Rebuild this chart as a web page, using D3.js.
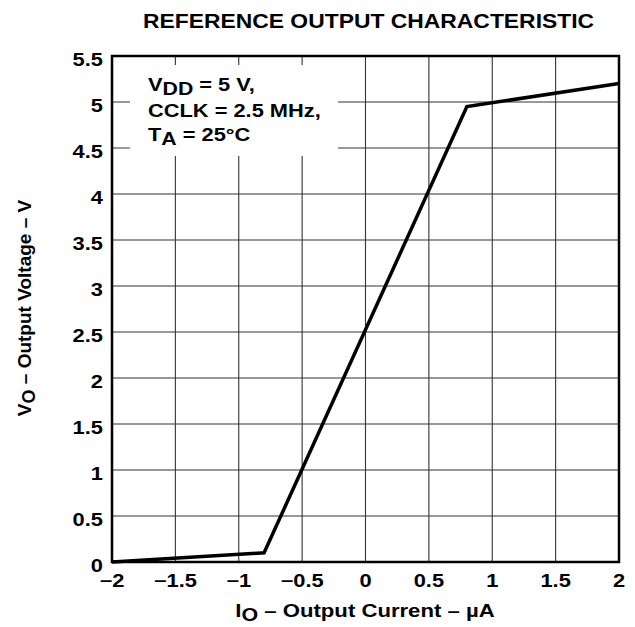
<!DOCTYPE html>
<html>
<head>
<meta charset="utf-8">
<script src="https://cdn.jsdelivr.net/npm/d3@7"></script>
<style>
  body { margin: 0; background: #fff; }
  svg { display: block; font-family: "Liberation Sans", Arial, sans-serif; font-weight: bold; }
</style>
</head>
<body>
<svg id="chart" width="635" height="627"></svg>
<script>
const currentUA = [-2, -0.8, 0.8, 2];
const outputV   = [0, 0.1, 4.95, 5.2];
const xTicks = [-2, -1.5, -1, -0.5, 0, 0.5, 1, 1.5, 2];
const yTicks = [0, 0.5, 1, 1.5, 2, 2.5, 3, 3.5, 4, 4.5, 5, 5.5];
const xTickLabels = ["\u22122", "\u22121.5", "\u22121", "\u22120.5", "0", "0.5", "1", "1.5", "2"];
const yTickLabels = ["0", "0.5", "1", "1.5", "2", "2.5", "3", "3.5", "4", "4.5", "5", "5.5"];

const svg = d3.select("#chart");
const L = 112, R = 619, T = 56, B = 562;
const x = d3.scaleLinear().domain([-2, 2]).range([L, R]);
const y = d3.scaleLinear().domain([0, 5.5]).range([B, T]);

// grid
const grid = svg.append("g").attr("stroke", "#333").attr("stroke-width", 1.1);
xTicks.slice(1, -1).forEach(v => {
  grid.append("line").attr("x1", x(v)).attr("x2", x(v)).attr("y1", T).attr("y2", B);
});
yTicks.slice(1, -1).forEach(v => {
  grid.append("line").attr("x1", L).attr("x2", R).attr("y1", y(v)).attr("y2", y(v));
});

// annotation box (white background)
svg.append("rect").attr("x", 130).attr("y", 65).attr("width", 208).attr("height", 91).attr("fill", "#fff");

// frame
svg.append("rect").attr("x", L).attr("y", T).attr("width", R - L).attr("height", B - T)
  .attr("fill", "none").attr("stroke", "#000").attr("stroke-width", 2.5);

// curve
const line = d3.line().x((d, i) => x(currentUA[i])).y(d => y(d));
svg.append("path").datum(outputV).attr("d", line)
  .attr("fill", "none").attr("stroke", "#000").attr("stroke-width", 3.5).attr("stroke-linejoin", "miter");

// helper: horizontally stretched text
function stext(px, py, sx, size, anchor, rot) {
  const g = svg.append("g").attr("transform",
    `translate(${px},${py})` + (rot ? ` rotate(${rot})` : "") + ` scale(${sx},1)`);
  return g.append("text").attr("text-anchor", anchor).attr("font-size", size);
}

// tick labels
xTicks.forEach((d, i) => {
  stext(x(d), 587, 1.25, 17.5, "middle").text(xTickLabels[i]);
});
yTicks.forEach((d, i) => {
  stext(103, y(d) + 10, 1.25, 17.5, "end").text(yTickLabels[i]);
});

// title
stext(368.5, 28, 1.09, 21, "middle").text("REFERENCE OUTPUT CHARACTERISTIC");

// x axis title
const xt = stext(365, 617, 1.19, 18.6, "middle");
xt.append("tspan").text("I");
xt.append("tspan").attr("dy", 4).attr("font-size", 18).text("O");
xt.append("tspan").attr("dy", -4).text(" \u2013 Output Current \u2013 \u00b5A");

// y axis title
const yt = stext(31, 308, 1.0, 19, "middle", -90);
yt.append("tspan").text("V");
yt.append("tspan").attr("dy", 4).attr("font-size", 18).text("O");
yt.append("tspan").attr("dy", -4).text(" \u2013 Output Voltage \u2013 V");

// annotation text
const a1 = stext(148, 91, 1.18, 18.5, "start");
a1.append("tspan").text("V");
a1.append("tspan").attr("dy", 4).attr("font-size", 18).text("DD");
a1.append("tspan").attr("dy", -4).text(" = 5 V,");
stext(148, 117, 1.18, 18.5, "start").text("CCLK = 2.5 MHz,");
const a3 = stext(148, 141, 1.18, 18.5, "start");
a3.append("tspan").text("T");
a3.append("tspan").attr("dy", 4).attr("font-size", 18).text("A");
a3.append("tspan").attr("dy", -4).text(" = 25\u00b0C");
</script>
</body>
</html>
